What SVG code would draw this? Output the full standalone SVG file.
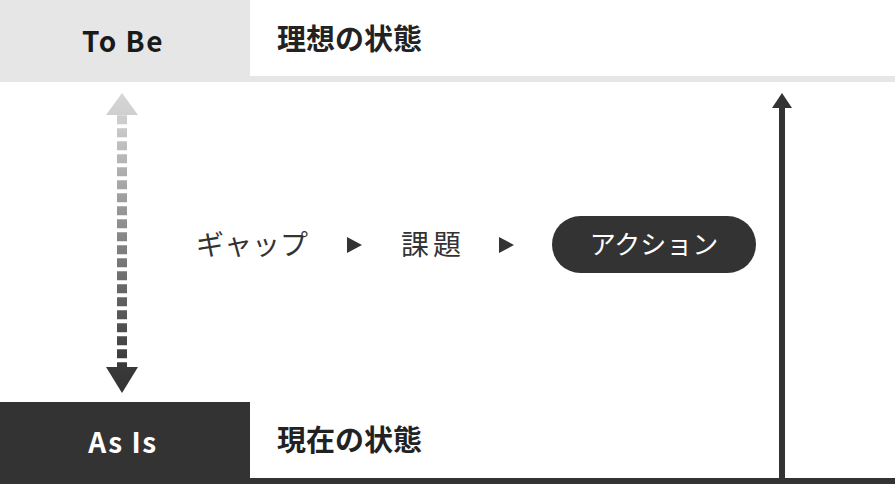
<svg xmlns="http://www.w3.org/2000/svg" width="895" height="484" viewBox="0 0 895 484">
<defs>
<style>
.title{font-family:"Noto Sans CJK JP","Noto Sans",sans-serif;font-weight:700;font-size:28px;letter-spacing:1.5px}
.jpb{font-family:"Noto Sans CJK JP",sans-serif;font-weight:700;font-size:29px;fill:#222}
.jp{font-family:"Noto Sans CJK JP",sans-serif;font-weight:400;font-size:28px;fill:#333}
.dark{fill:#333}
</style>
<linearGradient id="grad" gradientUnits="userSpaceOnUse" x1="0" y1="93" x2="0" y2="393">
<stop offset="0" stop-color="#d6d6d6"/>
<stop offset="0.1" stop-color="#cccccc"/>
<stop offset="0.9" stop-color="#3a3a3a"/>
<stop offset="1" stop-color="#333333"/>
</linearGradient>
</defs>
<rect width="895" height="484" fill="#fff"/>
<g id="tobe">
<rect x="0" y="0" width="250" height="82" fill="#e6e6e6"/>
<rect x="250" y="76" width="645" height="6" fill="#e6e6e6"/>
<text class="title" x="123" y="52" text-anchor="middle" fill="#1a1a1a">To Be</text>
<text class="jpb" x="277" y="50">理想の状態</text>
</g>
<g id="asis">
<rect x="0" y="402" width="250" height="82" class="dark"/>
<rect x="250" y="478" width="645" height="6" class="dark"/>
<text class="title" x="123" y="453" text-anchor="middle" fill="#fff">As Is</text>
<text class="jpb" x="277" y="451">現在の状態</text>
</g>
<g id="connectors">
<polygon points="122,93 138,115 106,115" fill="url(#grad)"/>
<line x1="122" y1="115.3" x2="122" y2="368" stroke="url(#grad)" stroke-width="10" stroke-dasharray="9 4"/>
<polygon points="106,367 138,367 122,393" fill="url(#grad)"/>
<rect x="779" y="106" width="6" height="373" class="dark"/>
<polygon points="782,93 792,108 772,108" class="dark"/>
<polygon points="347,237 362,245 347,253" class="dark"/>
<polygon points="499,237 514,245 499,253" class="dark"/>
</g>
<g id="gap">
<text class="jp" x="196" y="255">ギャップ</text>
</g>
<g id="issue">
<text class="jp" x="401" y="255" style="letter-spacing:4px">課題</text>
</g>
<g id="action">
<rect x="552" y="216" width="204" height="57" rx="28.5" class="dark"/>
<text class="jp" x="654" y="254" text-anchor="middle" style="font-size:26px;fill:#fff">アクション</text>
</g>
</svg>
